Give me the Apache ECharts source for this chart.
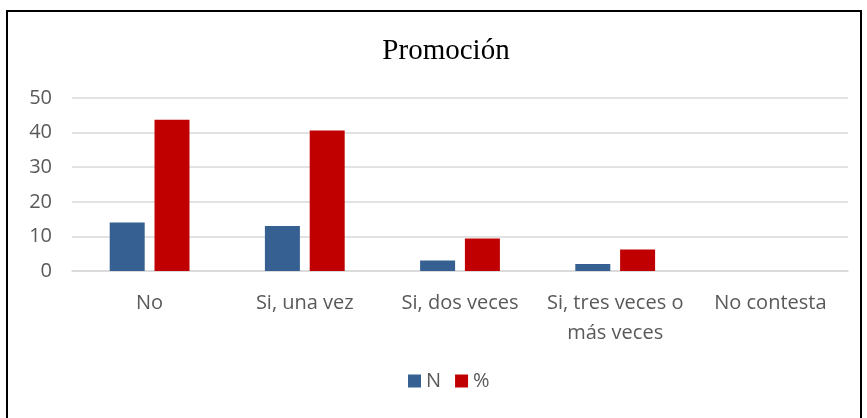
<!DOCTYPE html>
<html>
<head>
<meta charset="utf-8">
<script src="https://cdn.jsdelivr.net/npm/echarts@6/dist/echarts.min.js"></script>
<style>
  html, body { margin: 0; padding: 0; background: #fff; }
  #frame { position: absolute; left: 6px; top: 10px; width: 856px; height: 420px; border: 2px solid #000; box-sizing: border-box; }
  #chart { position: absolute; left: 0; top: 0; width: 867px; height: 418px; }
</style>
</head>
<body>
<div id="frame"></div>
<div id="chart"></div>
<script>
var categories = ['No', 'Si, una vez', 'Si, dos veces', 'Si, tres veces o\nmás veces', 'No contesta'];
var valuesN = [14, 13, 3, 2, 0];
var valuesPct = [43.75, 40.6, 9.4, 6.25, 0];

var myChart = echarts.init(document.getElementById('chart'));

var option = {
    animation: false,
    title: {
        text: 'Promoción',
        left: 441,
        textAlign: 'center',
        top: 32,
        textStyle: {
            fontFamily: 'Liberation Serif',
            fontWeight: 'normal',
            fontSize: 29,
            color: '#000'
        }
    },
    grid: {
        left: 72,
        right: 19,
        top: 98,
        bottom: 147
    },
    legend: {
        bottom: 22,
        left: 403,
        itemWidth: 13,
        itemHeight: 13,
        itemGap: 14,
        icon: 'rect',
        textStyle: { color: '#595959', fontSize: 20, fontFamily: 'Open Sans' },
        data: ['N', '%']
    },
    xAxis: {
        type: 'category',
        data: categories,
        axisLine: { lineStyle: { color: '#d9d9d9', width: 1.5 } },
        axisTick: { show: false },
        axisLabel: {
            color: '#595959',
            fontSize: 20,
            fontFamily: 'Open Sans',
            margin: 17,
            lineHeight: 30,
            interval: 0
        }
    },
    yAxis: {
        type: 'value',
        min: 0,
        max: 50,
        interval: 10,
        axisLine: { show: false },
        axisTick: { show: false },
        axisLabel: { color: '#595959', fontSize: 20, fontFamily: 'Open Sans', margin: 20 },
        splitLine: { lineStyle: { color: '#d9d9d9', width: 1.5 } }
    },
    series: [
        {
            name: 'N',
            type: 'bar',
            data: valuesN,
            barWidth: 35,
            barGap: '28%',
            itemStyle: { color: '#376092' }
        },
        {
            name: '%',
            type: 'bar',
            data: valuesPct,
            barWidth: 35,
            itemStyle: { color: '#c00000' }
        }
    ]
};

myChart.setOption(option);
</script>
</body>
</html>
